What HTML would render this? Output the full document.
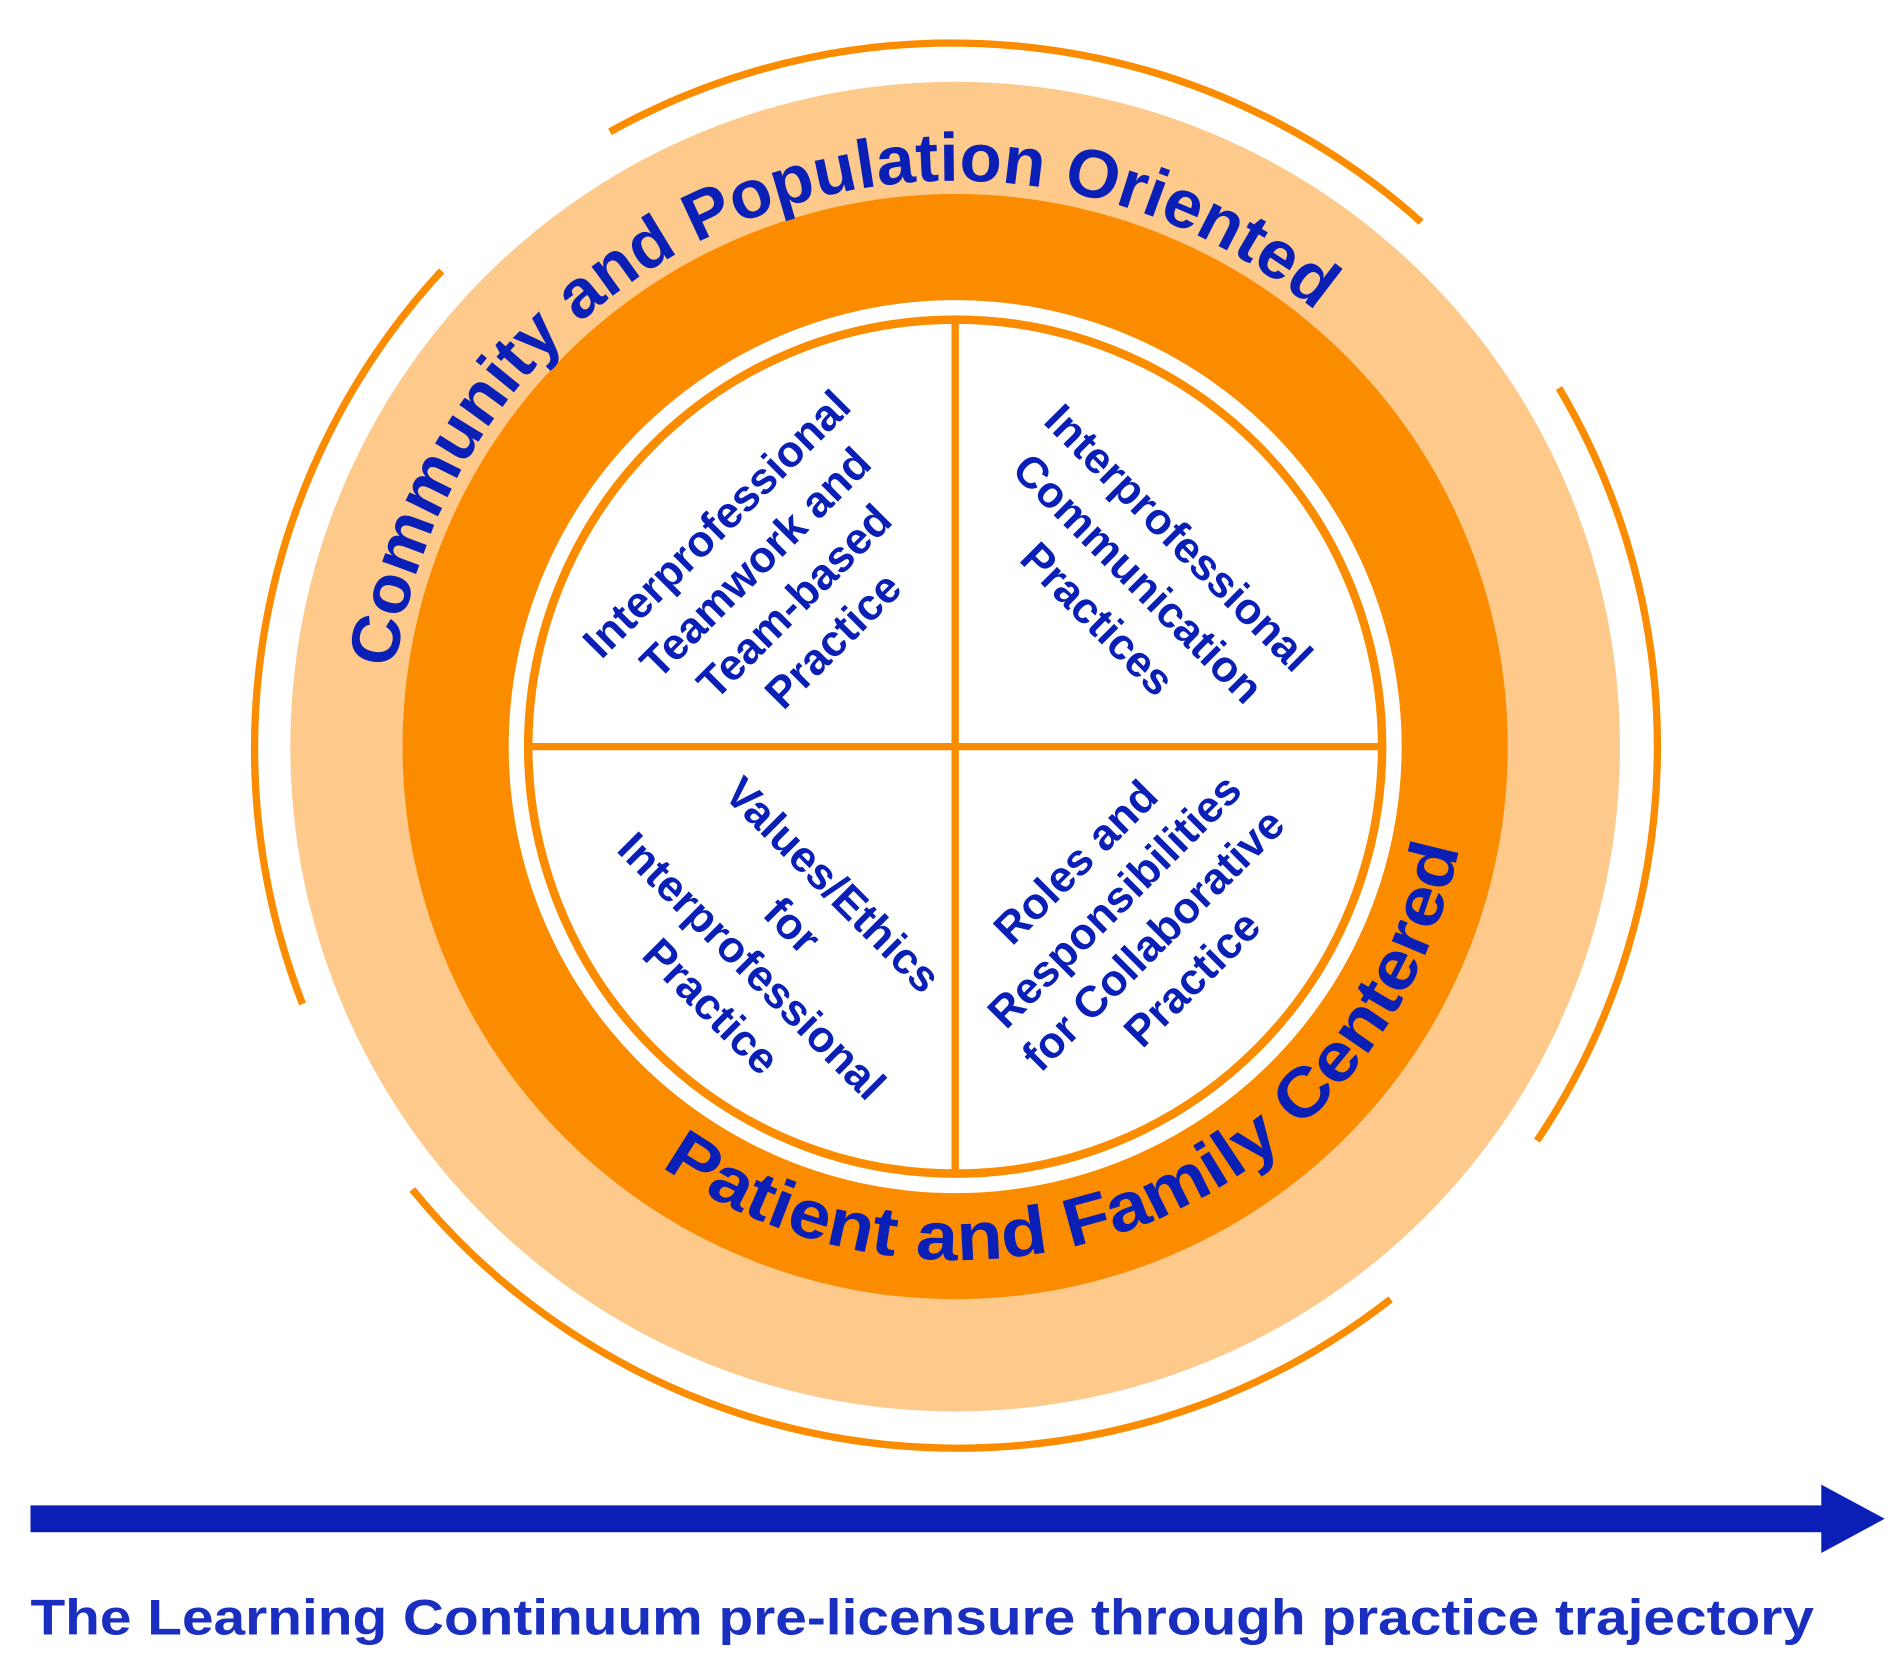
<!DOCTYPE html>
<html><head><meta charset="utf-8"><style>html,body{margin:0;padding:0;background:#fff}svg{display:block}</style></head>
<body>
<svg width="1903" height="1675" viewBox="0 0 1560 1373" xmlns="http://www.w3.org/2000/svg" font-family="Liberation Sans, Arial, sans-serif" font-weight="bold">
<defs>
<path id="top" d="M324,548 A463,463 0 0 1 1099,273"/>
<path id="bot" d="M542,956 A420,420 0 0 0 1200,672"/>
</defs>
<g fill="none" stroke="#fb8c00" stroke-width="6">
<path d="M500,108 A577,577 0 0 1 1165,182"/>
<path d="M1278,318 A577,577 0 0 1 1260,935"/>
<path d="M1140,1065 A577,577 0 0 1 338,975"/>
<path d="M248,823 A577,577 0 0 1 362,222"/>
</g>
<circle cx="783" cy="612" r="545" fill="#fdca8c"/>
<circle cx="783" cy="612" r="453" fill="#fb8c00"/>
<circle cx="783" cy="612" r="366" fill="#fff"/>
<circle cx="783" cy="612" r="350" fill="#fff" stroke="#fb8c00" stroke-width="7"/>
<line x1="432" y1="612" x2="1133" y2="612" stroke="#fb8c00" stroke-width="6"/>
<line x1="783" y1="262" x2="783" y2="962" stroke="#fb8c00" stroke-width="6"/>
<g fill="#0a1fb5">
<text font-size="56"><textPath href="#top" textLength="985" lengthAdjust="spacingAndGlyphs">Community and Population Oriented</textPath></text>
<text font-size="56"><textPath href="#bot" textLength="835" lengthAdjust="spacingAndGlyphs">Patient and Family Centered</textPath></text>
<g font-size="36" text-anchor="middle">
<g transform="translate(635,477) rotate(-45)">
<text x="0" y="-55">Interprofessional</text>
<text x="0" y="-10">Teamwork and</text>
<text x="0" y="35">Team-based</text>
<text x="0" y="80">Practice</text>
</g>
<g transform="translate(932,475) rotate(45)">
<text x="0" y="-36">Interprofessional</text>
<text x="0" y="11">Communication</text>
<text x="0" y="58">Practices</text>
</g>
<g transform="translate(633,775) rotate(45)">
<text x="0" y="-58">Values/Ethics</text>
<text x="0" y="-11">for</text>
<text x="0" y="36">Interprofessional</text>
<text x="0" y="83">Practice</text>
</g>
<g transform="translate(930,755) rotate(-45)">
<text x="0" y="-56">Roles and</text>
<text x="0" y="-11">Responsibilities</text>
<text x="0" y="34">for Collaborative</text>
<text x="0" y="79">Practice</text>
</g>
</g>
</g>
<rect x="25" y="1234" width="1472" height="22" fill="#0a1fb5"/>
<polygon points="1493,1217 1545,1245 1493,1273" fill="#0a1fb5"/>
<text x="25" y="1340" font-size="41" fill="#1a2fc0" textLength="1462" lengthAdjust="spacingAndGlyphs">The Learning Continuum pre-licensure through practice trajectory</text>
</svg>
</body></html>
